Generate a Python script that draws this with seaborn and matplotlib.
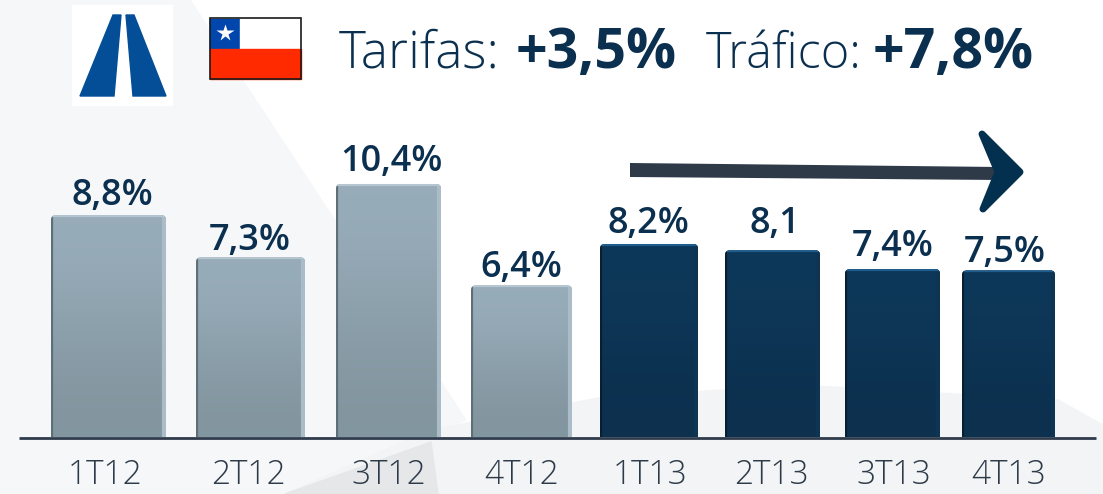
import numpy as np
import pandas as pd
import matplotlib
matplotlib.use('Agg')
import matplotlib.pyplot as plt
from matplotlib.colors import to_rgb
from matplotlib.patches import FancyBboxPatch, Polygon, Rectangle
import seaborn as sns

quarters = ['1T12', '2T12', '3T12', '4T12', '1T13', '2T13', '3T13', '4T13']
years = ['2012', '2012', '2012', '2012', '2013', '2013', '2013', '2013']
# altura de las barras (no es del todo proporcional a las etiquetas)
bar_values = [8.84, 7.16, 10.08, 6.04, 7.69, 7.44, 6.69, 6.64]
bar_labels = ['8,8%', '7,3%', '10,4%', '6,4%', '8,2%', '8,1', '7,4%', '7,5%']

# layout en pixeles de la imagen
PX_PER_UNIT = 25.1
BASE_Y = 437
W, H = 1103, 494
bar_left = [51, 196, 336, 471, 600, 725, 845, 962]
bar_right = [166, 305, 441, 572, 698, 820, 940, 1055]
tick_x = [105, 248, 389, 522, 650, 771, 894, 1009]
label_x = [112, 250, 391, 521, 648, 775, 893, 1005]
label_base = [205, 250, 171, 277, 233, 233, 256, 262]

sns.set_theme(style='white')
plt.rcParams['font.family'] = ['Open Sans', 'DejaVu Sans']

df = pd.DataFrame({'trimestre': quarters, 'valor': bar_values, 'anio': years})

fig = plt.figure(figsize=(W / 100, H / 100), dpi=100)
ax = fig.add_axes([0, 0, 1, 1])

sns.barplot(data=df, x='trimestre', y='valor', hue='anio',
            palette={'2012': '#8fa3af', '2013': '#0e3757'},
            dodge=False, legend=False, ax=ax, zorder=3)


def py(p):
    # pixel y (desde arriba) a unidades de datos
    return (BASE_Y - p) / PX_PER_UNIT


ax.set_xlim(0, W)
ax.set_ylim(py(H), py(0))
ax.axis('off')

# fondo
ax.add_patch(Rectangle((0, py(H)), W, H / PX_PER_UNIT, color='white', zorder=0))
ax.add_patch(Polygon([(0, py(0)), (190, py(0)), (466, py(420)), (440, py(430)), (285, py(H)), (0, py(H))],
                     color='#f6f7f9', zorder=0.5))
ax.add_patch(Polygon([(285, py(H)), (430, py(430)), (446, py(427)), (598, py(398)), (800, py(385)),
                      (1058, py(400)), (1103, py(425)), (1103, py(H))], color='#f3f4f6', zorder=0.6))
ax.add_patch(Polygon([(285, py(H)), (431, py(442)), (438, py(H))],
                     color='#e6e7e9', zorder=0.7))

# barras: se mueven a su sitio, con degradado y esquinas redondeadas
bars = sorted([p for c in ax.containers for p in c if p.get_height() > 0], key=lambda p: p.get_x())
for i, bar in enumerate(bars):
    x0, x1 = bar_left[i], bar_right[i]
    top = bar_values[i]
    bar.set_x(x0)
    bar.set_width(x1 - x0)
    if years[i] == '2012':
        c_top, c_bot, edge, side, light = '#98adba', '#82959f', '#5f6f78', '#a9bcc8', '#b5c6d0'
    else:
        c_top, c_bot, edge, side, light = '#0e3859', '#0c304e', '#071f33', '#0e3454', '#1e5d8e'
    shape = FancyBboxPatch((x0 + 4, -0.5), x1 - x0 - 8, top + 0.5 - 4 / PX_PER_UNIT,
                           boxstyle='round,pad=4,rounding_size=5', mutation_aspect=1 / PX_PER_UNIT,
                           fc='none', ec='none', zorder=1)
    ax.add_patch(shape)
    bar.set_clip_path(shape)
    cols = np.array([to_rgb(c_top), to_rgb(c_bot)])[:, None, :]
    im = ax.imshow(cols, extent=(x0, x1, 0, top), aspect='auto', interpolation='bicubic', zorder=3.1)
    im.set_clip_path(shape)
    left_line, = ax.plot([x0 + 1, x0 + 1], [0, top], color=edge, lw=1.6, zorder=3.2, solid_capstyle='butt')
    right_line, = ax.plot([x1 - 2, x1 - 2], [0, top], color=side, lw=3, zorder=3.2, solid_capstyle='butt')
    top_line, = ax.plot([x0, x1], [top - 1 / PX_PER_UNIT] * 2, color=light, lw=1.6, zorder=3.3)
    for line in (left_line, right_line, top_line):
        line.set_clip_path(shape)

ax.set_xlim(0, W)
ax.set_ylim(py(H), py(0))

# linea base
ax.plot([19, 1096], [py(438), py(438)], color='#2f3b4c', lw=2, zorder=4, solid_capstyle='butt')

navy = '#0b2f4f'
for i, q in enumerate(quarters):
    ax.text(tick_x[i], py(484), q, ha='center', va='baseline', fontsize=24,
            fontweight='light', color='#2d3a48', zorder=5)
    ax.text(label_x[i], py(label_base[i]), bar_labels[i],
            ha='center', va='baseline', fontsize=26, fontweight='semibold', color=navy, zorder=5)

# titulo
ax.text(339, py(68), 'Tarifas:', ha='left', va='baseline', fontsize=37, fontweight='light', color=navy)
ax.text(516, py(68), '+3,5%', ha='left', va='baseline', fontsize=40, fontweight='bold', color=navy)
ax.text(706, py(68), 'Tráfico:', ha='left', va='baseline', fontsize=35, fontweight='light', color=navy)
ax.text(873, py(68), '+7,8%', ha='left', va='baseline', fontsize=40, fontweight='bold', color=navy)

# flecha
ax.add_patch(Polygon([(630, py(163)), (1000, py(167)), (1000, py(180)), (630, py(177))],
                     fc='#2f3a48', ec='none', zorder=5))
ax.add_patch(Polygon([(982, py(134)), (1020, py(172)), (983, py(209)), (998, py(172))],
                     fc='#04304f', ec='#04304f', lw=5, joinstyle='round', zorder=6))

# logo
ax.add_patch(Rectangle((72, py(105)), 100, 100 / PX_PER_UNIT, color='white', zorder=2))
ax.add_patch(Polygon([(80, py(96)), (114, py(96)), (121, py(15)), (113, py(15))], color='#034e96', zorder=3))
ax.add_patch(Polygon([(133, py(96)), (166, py(96)), (134, py(15)), (126, py(15))], color='#034e96', zorder=3))

# bandera
ax.add_patch(Rectangle((210, py(49)), 30, 30 / PX_PER_UNIT, color='#0046ad', zorder=3))
ax.add_patch(Rectangle((240, py(49)), 61, 30 / PX_PER_UNIT, color='white', zorder=3))
ax.add_patch(Rectangle((210, py(79)), 91, 30 / PX_PER_UNIT, color='#ff2a00', zorder=3))
ax.add_patch(Rectangle((210, py(79)), 91, 61 / PX_PER_UNIT, fill=False, ec='#1a1a1a', lw=1.2, zorder=4))
ax.plot([224.5], [py(33)], marker='*', ms=13, color='white', mec='none', zorder=4)

fig.savefig('out.png', dpi=100)
